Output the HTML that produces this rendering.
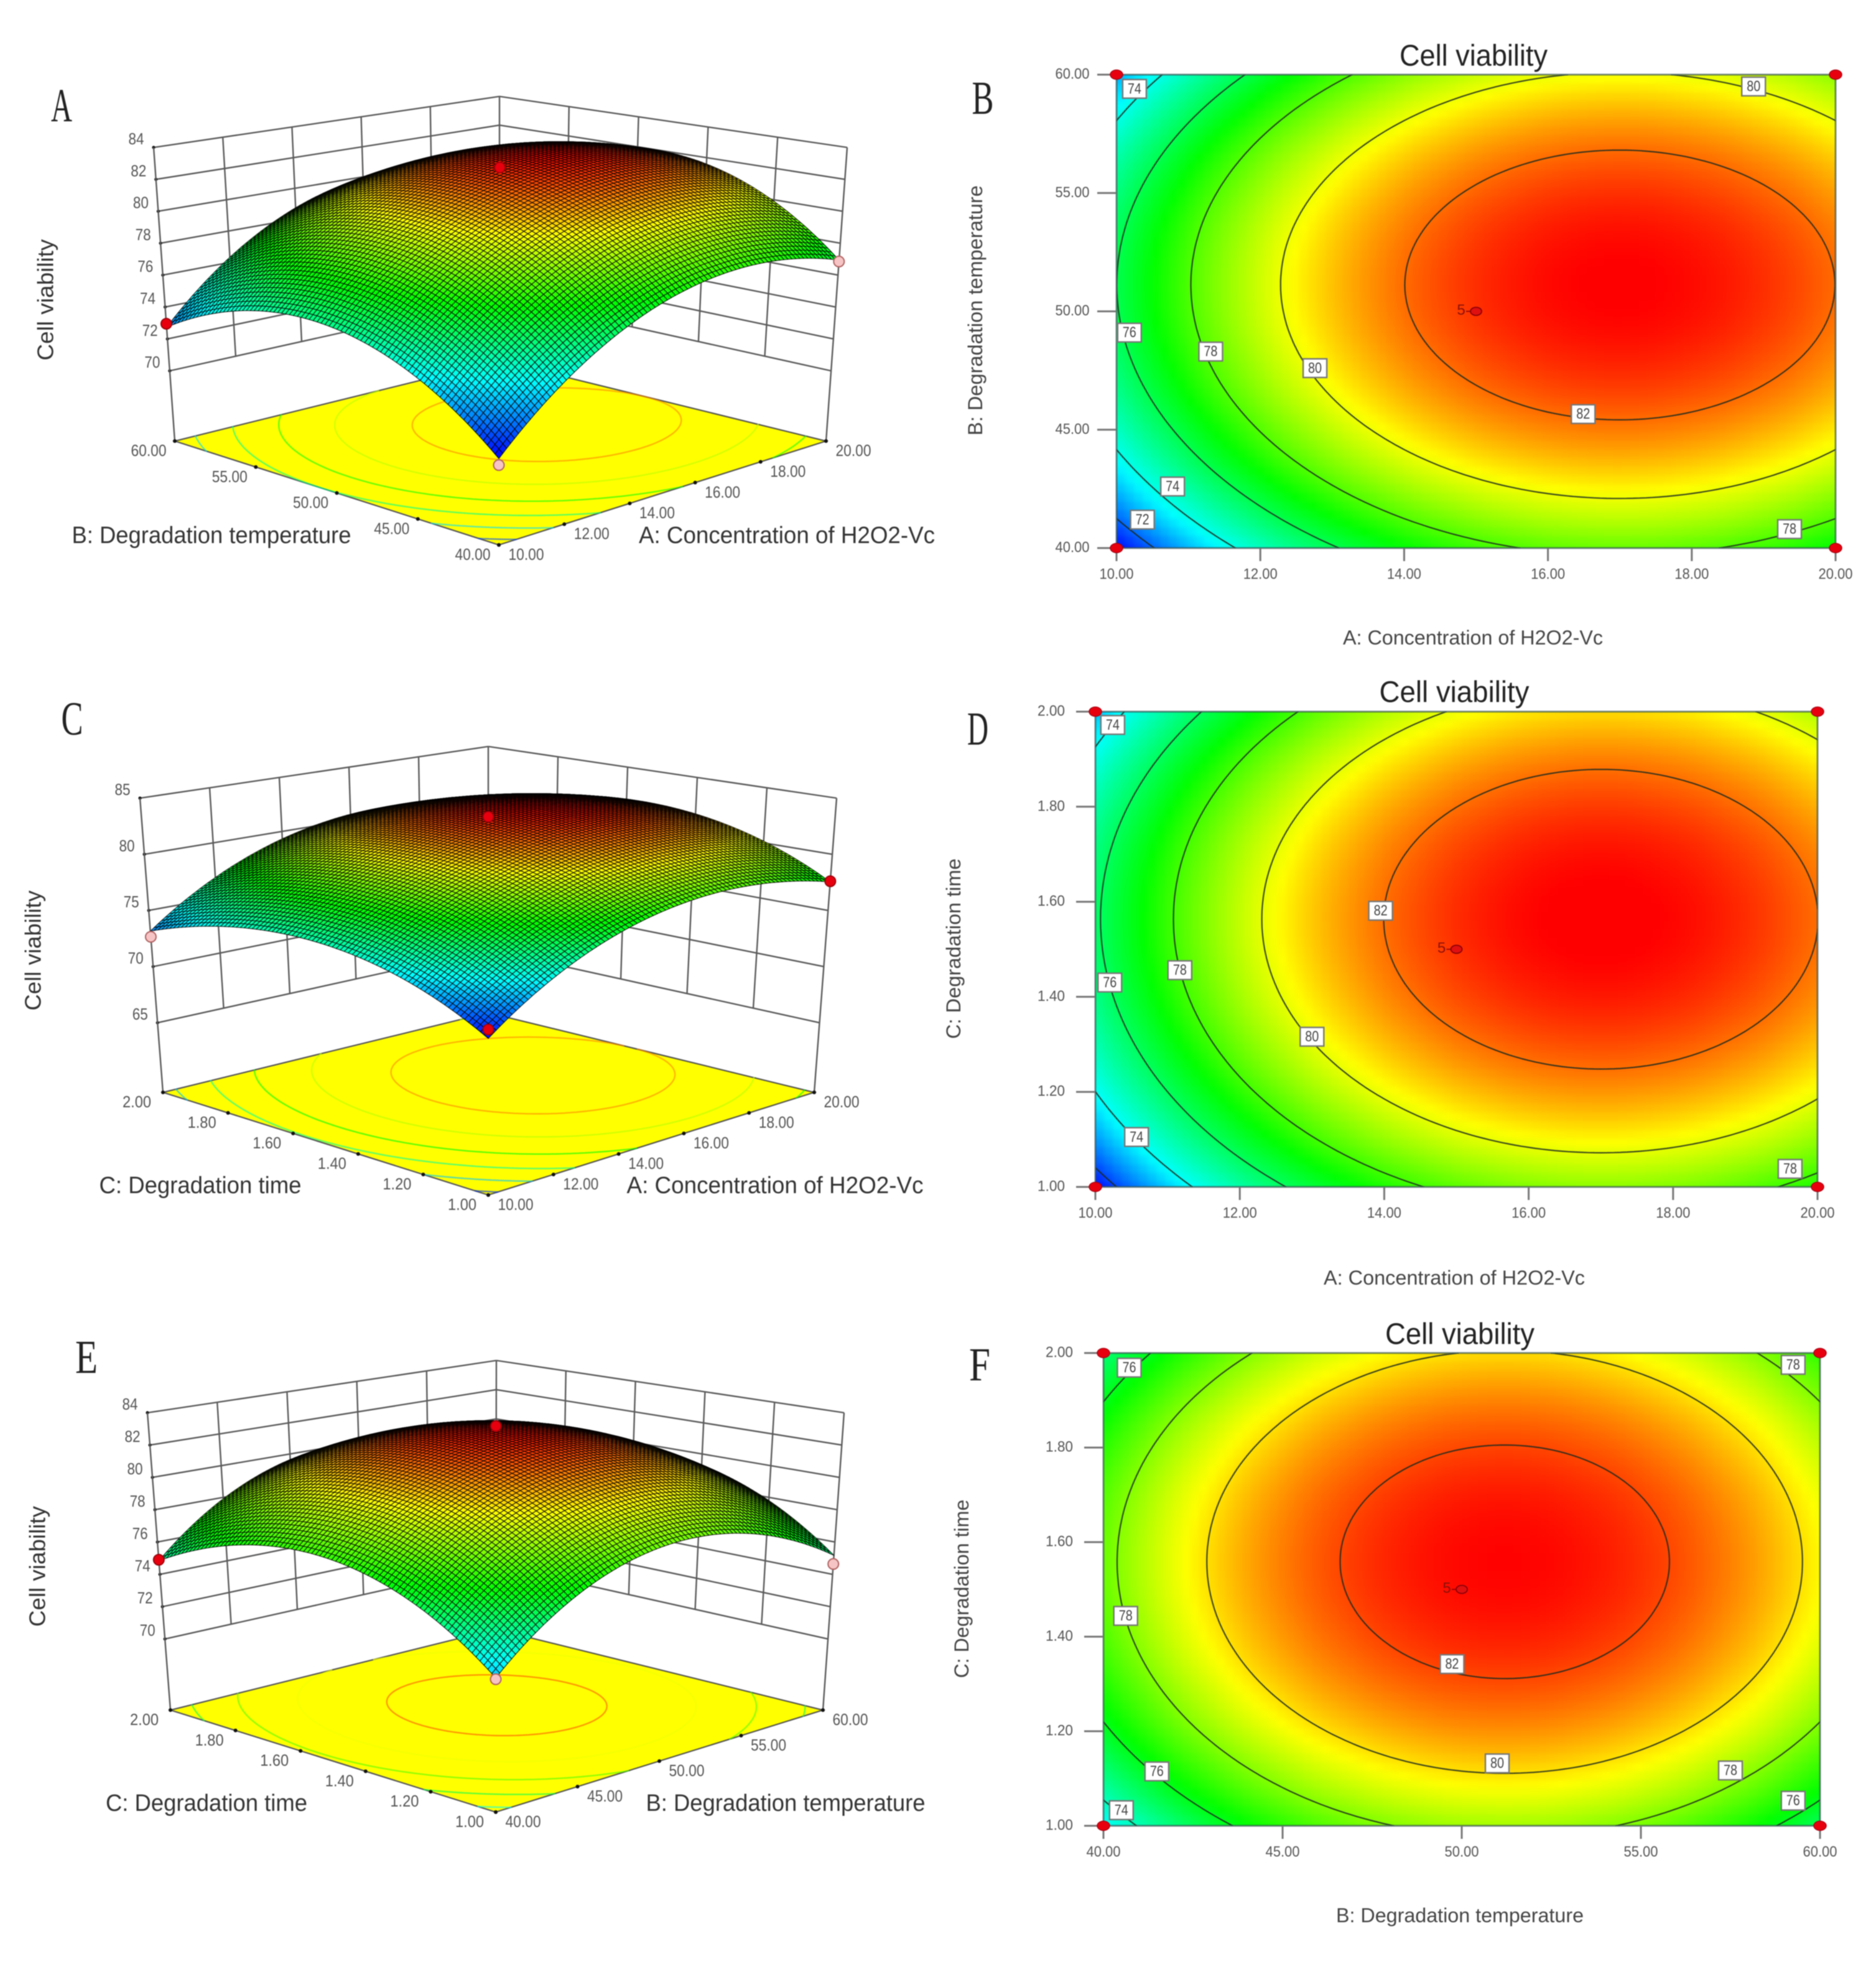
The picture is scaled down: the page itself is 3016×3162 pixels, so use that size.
<!DOCTYPE html>
<html lang="en">
<head>
<meta charset="utf-8">
<title>Cell viability response surfaces and contour plots</title>
<style>
html,body{margin:0;padding:0;background:#fff;width:3016px;height:3162px;overflow:hidden}
#figure{display:block;filter:blur(0.9px)}
text{font-family:"Liberation Sans",sans-serif}
</style>
</head>
<body>
<svg id="figure" width="3016" height="3162" viewBox="0 0 3016 3162"></svg>
<script>
/* ---------- values ---------- */
const concentrationLevels = [10, 12.5, 15, 17.5, 20];
const temperatureLevels = [40, 45, 50, 55, 60];
const timeLevels = [1, 1.25, 1.5, 1.75, 2];

/* rows follow the y factor levels, columns the x factor levels */
const viabilityAB = [
  [70.94, 75.25, 77.69, 78.25, 76.94],
  [74.45, 78.76, 81.20, 81.76, 80.45],
  [75.94, 80.25, 82.69, 83.25, 81.94],
  [75.37, 79.68, 82.12, 82.68, 81.37],
  [72.73, 77.04, 79.48, 80.04, 78.73]
];
const viabilityAC = [
  [71.38, 75.81, 78.31, 78.89, 77.54],
  [74.47, 78.90, 81.40, 81.98, 80.63],
  [75.79, 80.22, 82.72, 83.30, 81.95],
  [75.36, 79.79, 82.29, 82.87, 81.52],
  [73.16, 77.59, 80.09, 80.67, 79.32]
];
const viabilityBC = [
  [73.17, 76.80, 78.34, 77.80, 75.17],
  [76.28, 79.91, 81.45, 80.91, 78.28],
  [77.60, 81.23, 82.77, 82.23, 79.60],
  [77.12, 80.75, 82.29, 81.75, 79.12],
  [74.84, 78.47, 80.01, 79.47, 76.84]
];

const concentrationTicks = ['10.00', '12.00', '14.00', '16.00', '18.00', '20.00'];
const temperatureTicks = ['40.00', '45.00', '50.00', '55.00', '60.00'];
const timeTicks = ['1.00', '1.20', '1.40', '1.60', '1.80', '2.00'];
const viabilityTicksA = [70, 72, 74, 76, 78, 80, 82, 84];
const viabilityTicksC = [65, 70, 75, 80, 85];
const viabilityTicksE = [70, 72, 74, 76, 78, 80, 82, 84];
const contourLevels = [72, 74, 76, 78, 80, 82];

/* design points: x factor, y factor, measured viability */
const designPointsA = [[10, 60, 72.95], [20, 40, 76.85], [10, 40, 70.54], [15, 50, 83.5]];
const designPointsC = [[10, 2, 72.65], [20, 1, 77.6], [10, 1, 72.1], [15, 1.5, 83.77]];
const designPointsE = [[40, 2, 74.9], [60, 1, 74.64], [40, 1, 73.1], [50, 1.5, 83.5]];

/* contour label anchors: level, x factor, y factor */
const contourLabelsB = [[74,10.25,59.4],[76,10.18,49.1],[78,11.31,48.3],[80,12.76,47.6],[82,16.49,45.66],[80,18.86,59.5],[74,10.78,42.6],[72,10.36,41.2],[78,19.36,40.8]];
const contourLabelsD = [[74,10.24,1.972],[76,10.2,1.43],[78,11.17,1.456],[80,13.0,1.316],[82,13.95,1.581],[74,10.57,1.105],[78,19.62,1.038]];
const contourLabelsF = [[76,40.72,1.969],[78,59.25,1.975],[78,40.62,1.444],[82,49.73,1.342],[80,50.99,1.132],[76,41.49,1.115],[78,57.5,1.117],[76,59.25,1.053],[74,40.5,1.033]];

/* colour-ramp anchors: viability at blue, cyan, green, yellow, red */
const rampAB = [70.9, 73.7, 77, 80.2, 83.3];
const rampAC = [71.3, 73.9, 77.2, 80.3, 83.3];
const rampBC = [70, 73.2, 76.3, 79.6, 82.9];
const ramp3dA = [71, 74.5, 77.8, 80.8, 83.4];
const ramp3dC = [71.4, 74.8, 78, 80.8, 83.4];
const ramp3dE = [70.5, 73.9, 77, 80.2, 83];

/* ---------- helpers ---------- */
const NS = 'http://www.w3.org/2000/svg';
const root = document.getElementById('figure');

function make(tag, parent, name, attrs) {
  const el = document.createElementNS(NS, tag);
  
  
  for (const k in attrs) el.setAttribute(k, attrs[k]);
  parent.appendChild(el);
  return el;
}
function label(parent, name, str, x, y, size, fill, opts) {
  opts = opts || {};
  const attrs = {x: x, y: y, 'font-size': size, fill: fill, 'text-anchor': 'middle', 'dominant-baseline': 'central'};
  if (opts.len) { attrs.textLength = opts.len; attrs.lengthAdjust = 'spacingAndGlyphs'; }
  if (opts.rot) attrs.transform = 'rotate(' + opts.rot + ' ' + x + ' ' + y + ')';
  if (opts.family) attrs.style = 'font-family:' + opts.family;
  const t = make('text', parent, name, attrs);
  t.textContent = str;
  return t;
}
function lagrange(nodes, x) {
  return nodes.map(function (ni, i) {
    let w = 1;
    nodes.forEach(function (nj, j) { if (i !== j) w *= (x - nj) / (ni - nj); });
    return w;
  });
}
function surfaceFn(xs, ys, grid) {
  return function (x, y) {
    const wx = lagrange(xs, x), wy = lagrange(ys, y);
    let s = 0;
    for (let r = 0; r < ys.length; r++) for (let c = 0; c < xs.length; c++) s += wy[r] * wx[c] * grid[r][c];
    return s;
  };
}
const rampColours = [[0,0,255],[0,255,255],[0,255,0],[255,255,0],[255,0,0]];
function colour(z, ramp) {
  if (z <= ramp[0]) return 'rgb(0,0,255)';
  for (let i = 0; i < 4; i++) {
    if (z <= ramp[i + 1]) {
      const t = (z - ramp[i]) / (ramp[i + 1] - ramp[i]);
      const a = rampColours[i], b = rampColours[i + 1];
      return 'rgb(' + Math.round(a[0] + (b[0] - a[0]) * t) + ',' + Math.round(a[1] + (b[1] - a[1]) * t) + ',' + Math.round(a[2] + (b[2] - a[2]) * t) + ')';
    }
  }
  return 'rgb(255,0,0)';
}
/* marching squares: returns a path string using map(x,y)->[px,py] */
function contourPath(fn, xr, yr, n, level, map) {
  const vals = [];
  for (let j = 0; j <= n; j++) {
    const row = [];
    for (let i = 0; i <= n; i++) row.push(fn(xr[0] + (xr[1] - xr[0]) * i / n, yr[0] + (yr[1] - yr[0]) * j / n));
    vals.push(row);
  }
  let d = '';
  const X = function (i) { return xr[0] + (xr[1] - xr[0]) * i / n; };
  const Y = function (j) { return yr[0] + (yr[1] - yr[0]) * j / n; };
  for (let j = 0; j < n; j++) for (let i = 0; i < n; i++) {
    const a = vals[j][i], b = vals[j][i + 1], c = vals[j + 1][i + 1], e = vals[j + 1][i];
    const pts = [];
    if ((a - level) * (b - level) < 0) pts.push([X(i + (level - a) / (b - a)), Y(j)]);
    if ((b - level) * (c - level) < 0) pts.push([X(i + 1), Y(j + (level - b) / (c - b))]);
    if ((e - level) * (c - level) < 0) pts.push([X(i + (level - e) / (c - e)), Y(j + 1)]);
    if ((a - level) * (e - level) < 0) pts.push([X(i), Y(j + (level - a) / (e - a))]);
    for (let k = 0; k + 1 < pts.length; k += 2) {
      const p = map(pts[k][0], pts[k][1]), q = map(pts[k + 1][0], pts[k + 1][1]);
      d += 'M' + p[0].toFixed(1) + ' ' + p[1].toFixed(1) + 'L' + q[0].toFixed(1) + ' ' + q[1].toFixed(1);
    }
  }
  return d;
}

/* ---------- 3-D response surface ---------- */
function drawSurface(cfg) {
  const g = make('g', root, 'surface-plot-' + cfg.letter.toLowerCase(), {});
  const L = cfg.layout;
  const fn = surfaceFn(cfg.xs, cfg.ys, cfg.grid);
  const xr = [cfg.xs[0], cfg.xs[cfg.xs.length - 1]];
  const yr = [cfg.ys[0], cfg.ys[cfg.ys.length - 1]];
  const zr = [cfg.zFloor, cfg.zTicks[cfg.zTicks.length - 1]];
  const project = function (x, y, z) {
    const u = (x - xr[0]) / (xr[1] - xr[0]), v = (y - yr[0]) / (yr[1] - yr[0]), w = (z - zr[0]) / (zr[1] - zr[0]);
    const mix = function (k) {
      const fl = L.front[k] * (1 - u) * (1 - v) + L.right[k] * u * (1 - v) + L.left[k] * (1 - u) * v + L.back[k] * u * v;
      const tp = L.frontTop[k] * (1 - u) * (1 - v) + L.rightTop[k] * u * (1 - v) + L.leftTop[k] * (1 - u) * v + L.backTop[k] * u * v;
      return fl + (tp - fl) * w;
    };
    return [mix(0), mix(1)];
  };
  const line = function (name, a, b, w, col) {
    make('line', g, name, {x1: a[0], y1: a[1], x2: b[0], y2: b[1], stroke: col || '#5a5a5a', 'stroke-width': w || 2.4});
  };
  const zLow = cfg.zTicks[0], zHigh = zr[1];

  /* walls */
  cfg.zTicks.forEach(function (zv) {
    const a = project(xr[0], yr[1], zv), b = project(xr[1], yr[1], zv), c = project(xr[1], yr[0], zv);
    line('wall-gridline-' + zv, a, b);
    line('wall-gridline-' + zv, b, c);
    make('circle', g, 'z-axis-tick-' + zv, {cx: a[0], cy: a[1], r: 2.6, fill: '#111'});
    label(g, 'z-axis-label-' + zv, String(zv), a[0] - 28, a[1] - 14, 26, '#555', {len: 25});
  });
  const steps = 5;
  for (let i = 1; i < steps; i++) {
    const xv = xr[0] + (xr[1] - xr[0]) * i / steps;
    line('left-wall-gridline', project(xv, yr[1], zLow), project(xv, yr[1], zHigh));
    const yv = yr[0] + (yr[1] - yr[0]) * i / steps;
    line('right-wall-gridline', project(xr[1], yv, zLow), project(xr[1], yv, zHigh));
  }
  line('left-vertical-axis', project(xr[0], yr[1], zr[0]), project(xr[0], yr[1], zHigh));
  line('right-vertical-axis', project(xr[1], yr[0], zr[0]), project(xr[1], yr[0], zHigh));
  line('back-vertical-axis', project(xr[1], yr[1], zr[0]), project(xr[1], yr[1], zHigh));

  /* floor */
  const corners = [project(xr[0], yr[0], zr[0]), project(xr[1], yr[0], zr[0]), project(xr[1], yr[1], zr[0]), project(xr[0], yr[1], zr[0])];
  make('polygon', g, 'floor-projection', {points: corners.map(function (p) { return p.join(','); }).join(' '), fill: '#ffff00', stroke: '#555', 'stroke-width': 2.2});
  contourLevels.forEach(function (lv) {
    make('path', g, 'floor-contour-' + lv, {
      d: contourPath(fn, xr, yr, 90, lv, function (x, y) { return project(x, y, zr[0]); }),
      fill: 'none', stroke: colour(lv, cfg.ramp), 'stroke-width': 2.4, 'stroke-opacity': 0.62, 'stroke-linecap': 'round'
    });
  });

  /* floor ticks + labels */
  cfg.xTicks.forEach(function (t) {
    const p = project(+t, yr[0], zr[0]);
    make('circle', g, 'x-axis-tick-' + t, {cx: p[0], cy: p[1], r: 3, fill: '#111'});
    label(g, 'x-axis-label-' + t, t, p[0] + 44, p[1] + 15, 26, '#555', {len: 57});
  });
  cfg.yTicks.forEach(function (t) {
    const p = project(xr[0], +t, zr[0]);
    make('circle', g, 'y-axis-tick-' + t, {cx: p[0], cy: p[1], r: 3, fill: '#111'});
    label(g, 'y-axis-label-' + t, t, p[0] - 42, p[1] + 15, 26, '#555', {len: t.length > 4 ? 57 : 46});
  });

  /* mesh, painted back to front */
  const n = 85;
  const mesh = make('g', g, 'surface-mesh', {stroke: '#000', 'stroke-width': 1.15, 'stroke-opacity': 0.85, 'stroke-linejoin': 'round'});
  const fx = function (i) { return xr[0] + (xr[1] - xr[0]) * i / n; };
  const fy = function (j) { return yr[0] + (yr[1] - yr[0]) * j / n; };
  const z = [];
  for (let j = 0; j <= n; j++) { z.push([]); for (let i = 0; i <= n; i++) z[j].push(fn(fx(i), fy(j))); }
  for (let s = 2 * n - 2; s >= 0; s--) {
    for (let i = Math.max(0, s - n + 1); i <= Math.min(n - 1, s); i++) {
      const j = s - i;
      const pts = [project(fx(i), fy(j), z[j][i]), project(fx(i + 1), fy(j), z[j][i + 1]), project(fx(i + 1), fy(j + 1), z[j + 1][i + 1]), project(fx(i), fy(j + 1), z[j + 1][i])];
      const facet = document.createElementNS(NS, 'polygon');
      
      
      facet.setAttribute('points', pts.map(function (p) { return p[0].toFixed(1) + ',' + p[1].toFixed(1); }).join(' '));
      facet.setAttribute('fill', colour((z[j][i] + z[j][i + 1] + z[j + 1][i + 1] + z[j + 1][i]) / 4, cfg.ramp));
      mesh.appendChild(facet);
    }
  }

  /* design points: red above the surface, pink below it */
  cfg.points.forEach(function (pt) {
    const p = project(pt[0], pt[1], pt[2]);
    const above = pt[2] >= fn(pt[0], pt[1]);
    make('circle', g, above ? 'design-point-above' : 'design-point-below', {cx: p[0], cy: p[1], r: 8.5, fill: above ? '#e8000f' : '#f6c4c4', stroke: above ? '#a00008' : '#b06060', 'stroke-width': 2});
  });

  /* titles */
  label(g, 'y-factor-title', L.yTitle[0], L.yTitle[1], L.yTitle[2], 38, '#333', {len: L.yTitle[3]});
  label(g, 'x-factor-title', L.xTitle[0], L.xTitle[1], L.xTitle[2], 38, '#333', {len: L.xTitle[3]});
  label(g, 'z-axis-title', 'Cell viability', L.zTitle[0], L.zTitle[1], 36, '#333', {len: L.zTitle[2], rot: -90});
  label(g, 'panel-letter', cfg.letter, L.letter[0], L.letter[1], 76, '#222', {len: L.letter[2], family: '"Liberation Serif",serif'});
}

/* ---------- 2-D contour plot ---------- */
let clipCount = 0;
function drawContour(cfg) {
  const g = make('g', root, 'contour-plot-' + cfg.letter.toLowerCase(), {});
  const L = cfg.layout;
  const fn = surfaceFn(cfg.xs, cfg.ys, cfg.grid);
  const xr = [cfg.xs[0], cfg.xs[cfg.xs.length - 1]];
  const yr = [cfg.ys[0], cfg.ys[cfg.ys.length - 1]];
  const sx = function (x) { return L.x0 + (x - xr[0]) / (xr[1] - xr[0]) * (L.x1 - L.x0); };
  const sy = function (y) { return L.y1 - (y - yr[0]) / (yr[1] - yr[0]) * (L.y1 - L.y0); };

  const clipId = 'plot-clip-' + (++clipCount);
  const defs = make('defs', g, 'plot-clip-defs', {});
  const cp = make('clipPath', defs, 'plot-clip', {id: clipId});
  make('rect', cp, 'plot-clip-rect', {x: L.x0, y: L.y0, width: L.x1 - L.x0, height: L.y1 - L.y0});

  const clipped = make('g', g, 'plot-area', {'clip-path': 'url(#' + clipId + ')'});
  const heat = make('g', clipped, 'heatmap', {'shape-rendering': 'crispEdges', style: 'filter:blur(4px)'});
  const cell = 14;
  for (let py = L.y0 - 2 * cell; py < L.y1 + 2 * cell; py += cell) {
    for (let px = L.x0 - 2 * cell; px < L.x1 + 2 * cell; px += cell) {
      const dx = xr[0] + (Math.min(L.x1, Math.max(L.x0, px + cell / 2)) - L.x0) / (L.x1 - L.x0) * (xr[1] - xr[0]);
      const dy = yr[1] - (Math.min(L.y1, Math.max(L.y0, py + cell / 2)) - L.y0) / (L.y1 - L.y0) * (yr[1] - yr[0]);
      const r = document.createElementNS(NS, 'rect');
      
      
      r.setAttribute('x', px);
      r.setAttribute('y', py);
      r.setAttribute('width', cell + 1);
      r.setAttribute('height', cell + 1);
      r.setAttribute('fill', colour(fn(dx, dy), cfg.ramp));
      heat.appendChild(r);
    }
  }
  contourLevels.forEach(function (lv) {
    make('path', clipped, 'contour-line-' + lv, {
      d: contourPath(fn, xr, yr, 110, lv, function (x, y) { return [sx(x), sy(y)]; }),
      fill: 'none', stroke: '#1c2a20', 'stroke-width': 2.2, 'stroke-opacity': 0.85, 'stroke-linecap': 'round'
    });
  });
  make('rect', g, 'plot-frame', {x: L.x0, y: L.y0, width: L.x1 - L.x0, height: L.y1 - L.y0, fill: 'none', stroke: '#2f4f4f', 'stroke-opacity': 0.65, 'stroke-width': 3});

  cfg.xTicks.forEach(function (t) {
    const x = sx(+t);
    make('line', g, 'x-axis-tick-' + t, {x1: x, y1: L.y1, x2: x, y2: L.y1 + 21, stroke: '#777', 'stroke-width': 3});
    label(g, 'x-axis-label-' + t, t, x, L.y1 + 42, 24, '#555', {len: 55});
  });
  cfg.yTicks.forEach(function (t) {
    const y = sy(+t);
    make('line', g, 'y-axis-tick-' + t, {x1: L.x0 - 31, y1: y, x2: L.x0, y2: y, stroke: '#777', 'stroke-width': 3});
    label(g, 'y-axis-label-' + t, t, L.x0 - 71, y - 1, 24, '#555', {len: t.length > 4 ? 55 : 44});
  });

  /* contour labels */
  cfg.labels.forEach(function (lb) {
    const x = sx(lb[1]), y = sy(lb[2]);
    make('rect', g, 'contour-label-box', {x: x - 19, y: y - 15, width: 38, height: 30, fill: '#fff', stroke: '#777', 'stroke-width': 2.4});
    label(g, 'contour-label-' + lb[0], String(lb[0]), x, y, 24, '#444', {len: 22});
  });

  /* design points */
  const dotSpots = [[xr[0], yr[0]], [xr[1], yr[0]], [xr[0], yr[1]], [xr[1], yr[1]]];
  dotSpots.forEach(function (d) {
    make('ellipse', g, 'design-point', {cx: sx(d[0]), cy: sy(d[1]), rx: 10, ry: 7.5, fill: '#e8000f', stroke: '#b00010', 'stroke-width': 1.5});
  });
  const cx = sx((xr[0] + xr[1]) / 2), cy = sy((yr[0] + yr[1]) / 2);
  make('ellipse', g, 'center-design-point', {cx: cx, cy: cy, rx: 9, ry: 6.5, fill: '#e01010', stroke: '#8a0008', 'stroke-width': 1.8});
  make('line', g, 'center-point-leader', {x1: cx - 16, y1: cy, x2: cx - 8, y2: cy, stroke: '#8a0008', 'stroke-width': 1.6});
  label(g, 'center-point-count', '5', cx - 24, cy - 2, 24, '#8a1008');

  label(g, 'plot-title', 'Cell viability', L.title[0], L.title[1], 48, '#222', {len: L.title[2]});
  label(g, 'x-axis-title', L.xTitle[0], L.xTitle[1], L.xTitle[2], 32, '#444', {len: L.xTitle[3]});
  label(g, 'y-axis-title', L.yTitle[0], L.yTitle[1], L.yTitle[2], 32, '#444', {len: L.yTitle[3], rot: -90});
  label(g, 'panel-letter', cfg.letter, L.letter[0], L.letter[1], 76, '#222', {len: L.letter[2], family: '"Liberation Serif",serif'});
}

/* ---------- panels ---------- */
drawSurface({
  letter: 'A', xs: concentrationLevels, ys: temperatureLevels, grid: viabilityAB, ramp: ramp3dA,
  xTicks: concentrationTicks, yTicks: temperatureTicks, zTicks: viabilityTicksA, zFloor: 65.6, points: designPointsA,
  layout: {
    front: [802, 876], right: [1328, 709], left: [281, 709], back: [803, 580],
    frontTop: [802, 398], rightTop: [1362, 237], leftTop: [247, 237], backTop: [803, 155],
    yTitle: ['B: Degradation temperature', 340, 861, 449], xTitle: ['A: Concentration of H2O2-Vc', 1265, 861, 476],
    zTitle: [73, 482, 195], letter: [99, 170, 34]
  }
});
drawContour({
  letter: 'B', xs: concentrationLevels, ys: temperatureLevels, grid: viabilityAB, ramp: rampAB,
  xTicks: concentrationTicks, yTicks: temperatureTicks, labels: contourLabelsB,
  layout: {
    x0: 1795, x1: 2951, y0: 120, y1: 881, title: [2369, 90, 238],
    xTitle: ['A: Concentration of H2O2-Vc', 2368, 1025, 418], yTitle: ['B: Degradation temperature', 1568, 499, 402],
    letter: [1580, 158, 35]
  }
});
drawSurface({
  letter: 'C', xs: concentrationLevels, ys: timeLevels, grid: viabilityAC, ramp: ramp3dC,
  xTicks: concentrationTicks, yTicks: timeTicks, zTicks: viabilityTicksC, zFloor: 58.8, points: designPointsC,
  layout: {
    front: [785, 1921], right: [1309, 1756], left: [262, 1756], back: [785, 1628],
    frontTop: [785, 1397], rightTop: [1345, 1283], leftTop: [225, 1283], backTop: [785, 1200],
    yTitle: ['C: Degradation time', 322, 1906, 325], xTitle: ['A: Concentration of H2O2-Vc', 1246, 1906, 477],
    zTitle: [53, 1528, 193], letter: [116, 1156, 35]
  }
});
drawContour({
  letter: 'D', xs: concentrationLevels, ys: timeLevels, grid: viabilityAC, ramp: rampAC,
  xTicks: concentrationTicks, yTicks: timeTicks, labels: contourLabelsD,
  layout: {
    x0: 1761, x1: 2922, y0: 1144, y1: 1908, title: [2338, 1113, 241],
    xTitle: ['A: Concentration of H2O2-Vc', 2338, 2054, 420], yTitle: ['C: Degradation time', 1533, 1525, 290],
    letter: [1572, 1172, 34]
  }
});
drawSurface({
  letter: 'E', xs: temperatureLevels, ys: timeLevels, grid: viabilityBC, ramp: ramp3dE,
  xTicks: temperatureTicks, yTicks: timeTicks, zTicks: viabilityTicksE, zFloor: 65.6, points: designPointsE,
  layout: {
    front: [797, 2913], right: [1323, 2749], left: [274, 2749], back: [797, 2619],
    frontTop: [797, 2389], rightTop: [1357, 2271], leftTop: [237, 2271], backTop: [798, 2187],
    yTitle: ['C: Degradation time', 332, 2899, 324], xTitle: ['B: Degradation temperature', 1263, 2899, 449],
    zTitle: [60, 2518, 194], letter: [139, 2182, 36]
  }
});
drawContour({
  letter: 'F', xs: temperatureLevels, ys: timeLevels, grid: viabilityBC, ramp: rampBC,
  xTicks: temperatureTicks, yTicks: timeTicks, labels: contourLabelsF,
  layout: {
    x0: 1774, x1: 2926, y0: 2175, y1: 2935, title: [2347, 2145, 240],
    xTitle: ['B: Degradation temperature', 2347, 3079, 398], yTitle: ['C: Degradation time', 1546, 2554, 287],
    letter: [1575, 2194, 34]
  }
});
</script>
</body>
</html>
